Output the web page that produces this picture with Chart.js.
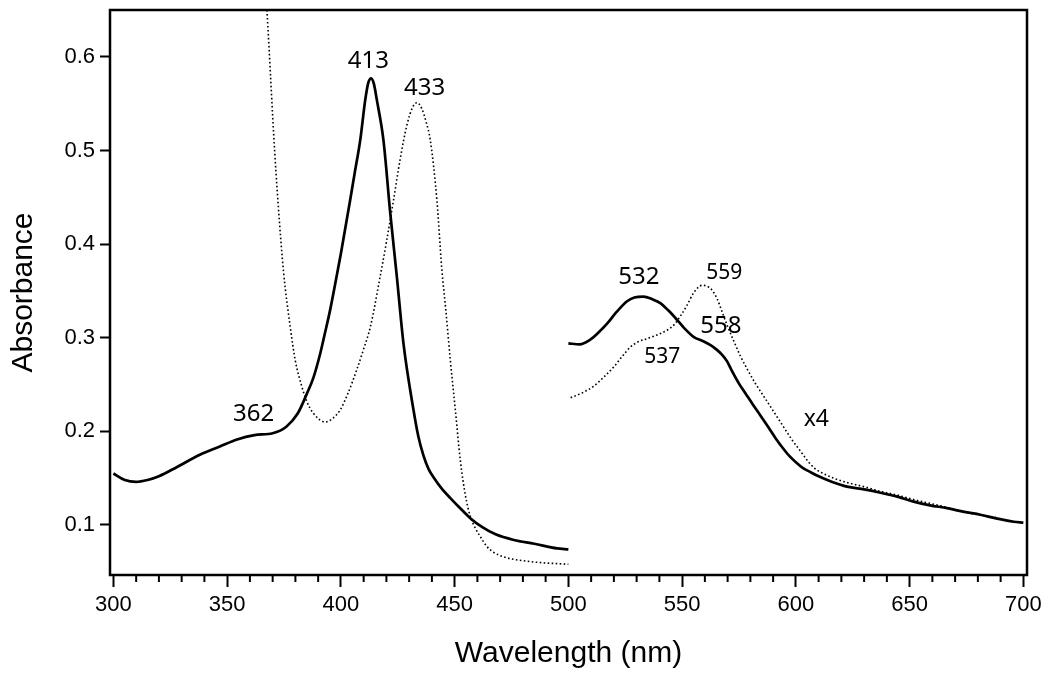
<!DOCTYPE html>
<html>
<head>
<meta charset="utf-8">
<script src="https://cdn.jsdelivr.net/npm/chart.js@4/dist/chart.umd.min.js"></script>
<style>
  html, body { margin: 0; padding: 0; background: #fff; }
  #wrap { width: 1050px; height: 677px; }
</style>
</head>
<body>
<div id="wrap"><canvas id="spectrum" width="1050" height="677"></canvas></div>
<script>
// Solid spectrum, Soret region (300-500 nm)
const solidWl1 = [300, 305, 310, 315, 320, 328, 338, 347, 354, 362, 370, 376, 381, 385, 388, 391, 393, 395.3, 398, 400, 402, 404, 406, 408.5, 410.7, 412, 413.3, 414.5, 415.8, 418.7, 421.7, 424.6, 427.5, 431.9, 434, 436.3, 438.5, 441, 444, 448, 452, 457, 462, 468, 476, 485, 495, 500];
const solidAbs1 = [0.155, 0.148, 0.146, 0.148, 0.152, 0.162, 0.175, 0.184, 0.191, 0.196, 0.198, 0.205, 0.219, 0.240, 0.258, 0.284, 0.305, 0.330, 0.364, 0.390, 0.418, 0.446, 0.475, 0.511, 0.554, 0.572, 0.577, 0.571, 0.554, 0.511, 0.433, 0.365, 0.294, 0.223, 0.195, 0.174, 0.160, 0.150, 0.140, 0.129, 0.119, 0.107, 0.098, 0.090, 0.084, 0.080, 0.075, 0.074];

// Solid spectrum, visible region x4 (500-700 nm)
const solidWl2 = [500, 505, 509.6, 513, 517, 521, 525.8, 529, 533, 537, 540.4, 544, 547.8, 551, 555, 559.5, 562.5, 565.3, 567.5, 569.7, 572, 575, 578, 581, 584.4, 588, 591, 594, 597, 600, 603, 606, 610, 616, 622.5, 630, 637.2, 645, 651.8, 659, 666.5, 674, 681.1, 688, 695.8, 700];
const solidAbs2 = [0.294, 0.293, 0.298, 0.305, 0.315, 0.327, 0.339, 0.343, 0.344, 0.341, 0.337, 0.329, 0.319, 0.310, 0.301, 0.296, 0.292, 0.287, 0.282, 0.275, 0.264, 0.251, 0.240, 0.229, 0.217, 0.204, 0.193, 0.183, 0.174, 0.167, 0.161, 0.157, 0.152, 0.146, 0.141, 0.138, 0.1345, 0.130, 0.125, 0.121, 0.118, 0.114, 0.111, 0.107, 0.1035, 0.1025];

// Dotted spectrum, Soret region
const dotWl1 = [367.5, 369, 370.4, 372.5, 374.8, 377.7, 380, 382.8, 385, 388, 393, 396, 399.7, 403, 407, 410, 413, 417, 420, 423, 426, 429, 431.5, 433.4, 435.5, 437.5, 439.3, 442.2, 444.3, 446.1, 448.1, 450.3, 452.5, 454.7, 456.9, 459, 461.3, 464.2, 467, 471.5, 483, 500];
const dotAbs1 = [0.650, 0.583, 0.519, 0.440, 0.370, 0.312, 0.275, 0.248, 0.232, 0.219, 0.210, 0.213, 0.223, 0.240, 0.266, 0.288, 0.312, 0.362, 0.402, 0.445, 0.490, 0.527, 0.546, 0.551, 0.545, 0.530, 0.511, 0.447, 0.375, 0.330, 0.276, 0.223, 0.169, 0.132, 0.109, 0.097, 0.0875, 0.077, 0.071, 0.066, 0.061, 0.058];

// Dotted spectrum, visible region x4
const dotWl2 = [501, 506, 511, 516, 520, 524, 527.2, 531, 534.6, 539, 543.4, 546.5, 549.2, 552, 555.1, 558.8, 561, 563.1, 565.5, 567.5, 570, 572.6, 575.5, 578.5, 582, 586, 590, 594, 598, 602, 605, 608, 612, 616.6, 623, 629.8, 637, 644.5, 652, 659.1, 666, 673.8, 680, 688];
const dotAbs2 = [0.236, 0.241, 0.248, 0.259, 0.269, 0.281, 0.290, 0.296, 0.299, 0.303, 0.308, 0.314, 0.323, 0.334, 0.348, 0.356, 0.355, 0.351, 0.341, 0.328, 0.312, 0.297, 0.281, 0.267, 0.252, 0.237, 0.222, 0.207, 0.192, 0.179, 0.169, 0.161, 0.155, 0.150, 0.145, 0.141, 0.136, 0.132, 0.127, 0.123, 0.119, 0.114, 0.111, 0.108];

// Axis ticks
const xMajorTicks = [300, 350, 400, 450, 500, 550, 600, 650, 700];
const xMinorStep = 10;
const yTicks = [0.1, 0.2, 0.3, 0.4, 0.5, 0.6];

// Peak labels: text, wavelength, absorbance, font size
const peakText = ['413', '433', '362', '532', '559', '558', '537', 'x4'];
const peakWl = [412.1, 436.8, 361.6, 531.0, 568.5, 567.0, 541.3, 609.0];
const peakAbs = [0.595, 0.566, 0.2186, 0.3644, 0.369, 0.3128, 0.2798, 0.2132];
const peakSize = [24, 24, 24, 24, 21, 24, 21, 23];

const toPoints = (xs, ys) => xs.map((x, i) => ({ x, y: ys[i] }));

const solidStyle = {
    borderColor: '#000',
    borderWidth: 2.7,
    pointRadius: 0,
    fill: false,
    cubicInterpolationMode: 'monotone'
};
const dotStyle = {
    borderColor: '#000',
    borderWidth: 1.6,
    borderDash: [1.6, 2.4],
    pointRadius: 0,
    fill: false,
    cubicInterpolationMode: 'monotone'
};

// Frame, minor x ticks and peak labels
const decorPlugin = {
    id: 'decor',
    afterDraw(chart) {
        const { ctx, chartArea: a, scales: { x, y } } = chart;
        ctx.save();
        ctx.strokeStyle = '#000';
        ctx.lineWidth = 2;
        for (let v = xMajorTicks[0]; v <= xMajorTicks[xMajorTicks.length - 1]; v += xMinorStep) {
            if (xMajorTicks.includes(v)) continue;
            const px = x.getPixelForValue(v);
            ctx.beginPath();
            ctx.moveTo(px, a.bottom);
            ctx.lineTo(px, a.bottom + 7);
            ctx.stroke();
        }
        ctx.lineWidth = 2.5;
        ctx.strokeRect(a.left, a.top, a.right - a.left, a.bottom - a.top);

        ctx.fillStyle = '#000';
        ctx.textAlign = 'center';
        ctx.textBaseline = 'middle';
        peakText.forEach((t, i) => {
            ctx.font = peakSize[i] + 'px "Noto Sans"';
            ctx.fillText(t, x.getPixelForValue(peakWl[i]), y.getPixelForValue(peakAbs[i]));
        });
        ctx.restore();
    }
};

new Chart(document.getElementById('spectrum'), {
    type: 'line',
    data: {
        datasets: [
            { ...solidStyle, data: toPoints(solidWl1, solidAbs1) },
            { ...solidStyle, data: toPoints(solidWl2, solidAbs2) },
            { ...dotStyle, data: toPoints(dotWl1, dotAbs1) },
            { ...dotStyle, data: toPoints(dotWl2, dotAbs2) }
        ]
    },
    options: {
        responsive: false,
        animation: false,
        layout: { padding: { top: 10, right: 23, left: 0, bottom: 0 } },
        plugins: {
            legend: { display: false },
            tooltip: { enabled: false }
        },
        scales: {
            x: {
                type: 'linear',
                min: 298.5,
                max: 701.6,
                afterBuildTicks: s => { s.ticks = xMajorTicks.map(v => ({ value: v })); },
                afterFit: s => { s.height = 102; s.paddingLeft = 0; s.paddingRight = 0; },
                border: { display: false },
                grid: {
                    drawOnChartArea: false,
                    drawTicks: true,
                    tickLength: 12,
                    tickWidth: 2,
                    tickColor: '#000'
                },
                ticks: {
                    color: '#000',
                    padding: 5,
                    maxRotation: 0,
                    font: { family: '"Liberation Sans", Arial', size: 22 }
                },
                title: {
                    display: true,
                    text: 'Wavelength (nm)',
                    color: '#000',
                    padding: { bottom: 5 },
                    font: { family: '"Liberation Sans", Arial', size: 30 }
                }
            },
            y: {
                min: 0.0466,
                max: 0.650,
                afterBuildTicks: s => { s.ticks = yTicks.map(v => ({ value: v })); },
                afterFit: s => { s.width = 110; s.paddingTop = 0; s.paddingBottom = 0; },
                border: { display: false },
                grid: {
                    drawOnChartArea: false,
                    drawTicks: true,
                    tickLength: 10,
                    tickWidth: 2,
                    tickColor: '#000'
                },
                ticks: {
                    color: '#000',
                    padding: 5,
                    callback: v => v.toFixed(1),
                    font: { family: '"Liberation Sans", Arial', size: 22 }
                },
                title: {
                    display: true,
                    text: 'Absorbance',
                    color: '#000',
                    padding: { top: 6 },
                    font: { family: '"Liberation Sans", Arial', size: 30 }
                }
            }
        }
    },
    plugins: [decorPlugin]
});
</script>
</body>
</html>
